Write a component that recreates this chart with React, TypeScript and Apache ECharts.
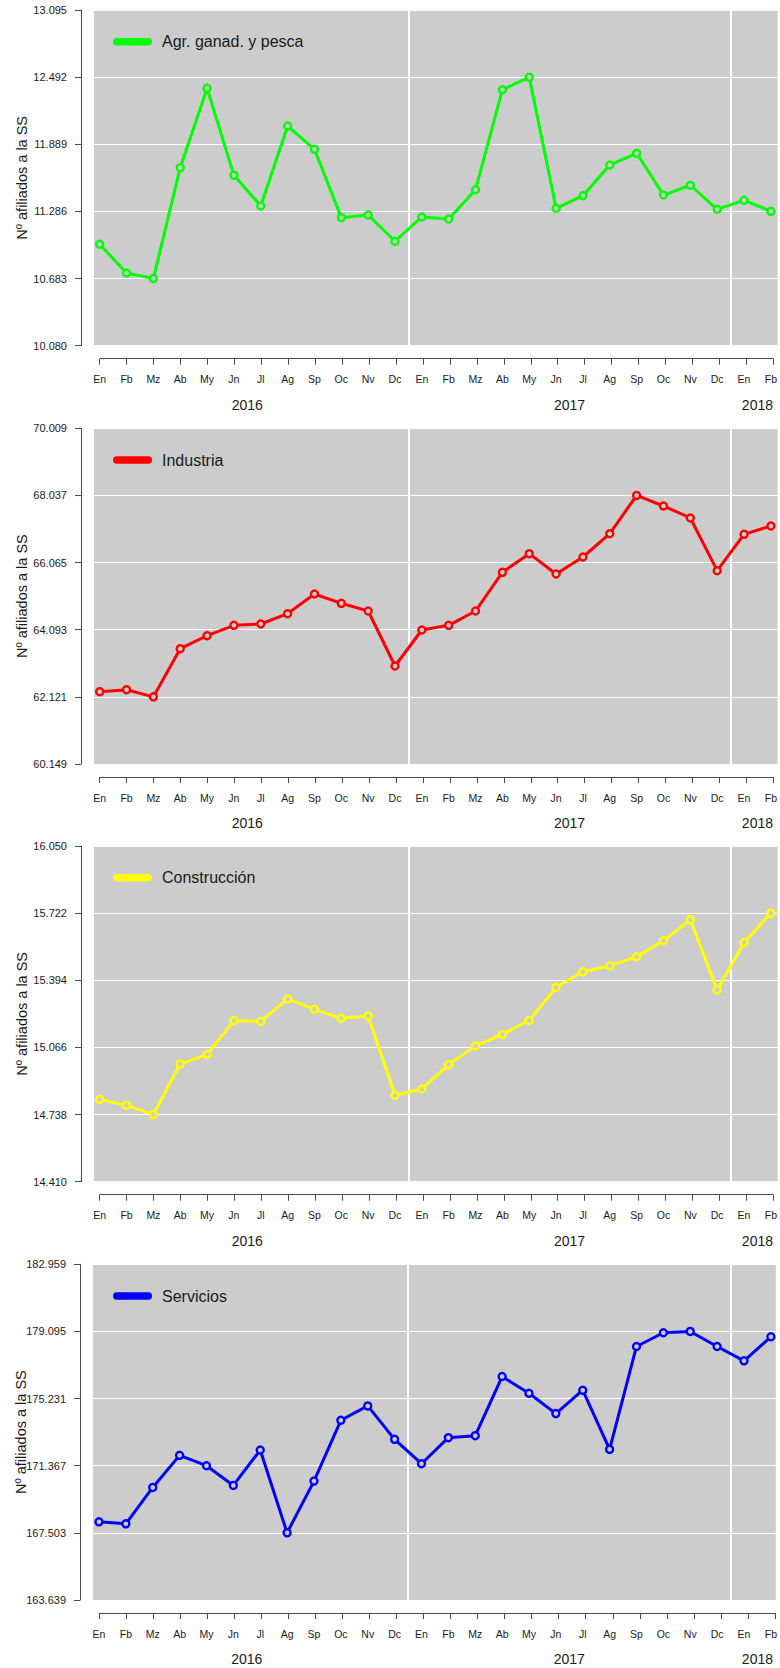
import React, { useEffect, useRef } from 'react';
import * as echarts from 'echarts';

// ---------- data ----------
const monthLabels = [
  'En', 'Fb', 'Mz', 'Ab', 'My', 'Jn', 'Jl', 'Ag', 'Sp', 'Oc', 'Nv', 'Dc',
  'En', 'Fb', 'Mz', 'Ab', 'My', 'Jn', 'Jl', 'Ag', 'Sp', 'Oc', 'Nv', 'Dc',
  'En', 'Fb',
];
const pointYears = [
  '2016', '2016', '2016', '2016', '2016', '2016', '2016', '2016', '2016', '2016', '2016', '2016',
  '2017', '2017', '2017', '2017', '2017', '2017', '2017', '2017', '2017', '2017', '2017', '2017',
  '2018', '2018',
];

const agrValues = [
  10.991, 10.733, 10.683, 11.679, 12.392, 11.61, 11.335, 12.053, 11.844, 11.23, 11.254, 11.018,
  11.236, 11.218, 11.481, 12.379, 12.492, 11.314, 11.427, 11.703, 11.808, 11.433, 11.521, 11.305,
  11.386, 11.287,
];
const indValues = [
  62.274, 62.332, 62.121, 63.537, 63.919, 64.222, 64.261, 64.565, 65.142, 64.868, 64.643, 63.028,
  64.085, 64.222, 64.643, 65.779, 66.327, 65.73, 66.229, 66.915, 68.037, 67.727, 67.375, 65.828,
  66.895, 67.14,
];
const conValues = [
  14.812, 14.783, 14.738, 14.985, 15.032, 15.197, 15.193, 15.303, 15.252, 15.208, 15.219, 14.832,
  14.863, 14.982, 15.074, 15.13, 15.198, 15.359, 15.436, 15.464, 15.509, 15.587, 15.69, 15.346,
  15.578, 15.722,
];
const serValues = [
  168.137, 168.022, 170.117, 171.963, 171.367, 170.233, 172.271, 167.503, 170.483, 173.982, 174.808, 172.886,
  171.482, 172.982, 173.097, 176.5, 175.539, 174.366, 175.712, 172.309, 178.23, 179.02, 179.095, 178.23,
  177.403, 178.787,
];

const agrTicks = [10.08, 10.683, 11.286, 11.889, 12.492, 13.095];
const indTicks = [60.149, 62.121, 64.093, 66.065, 68.037, 70.009];
const conTicks = [14.41, 14.738, 15.066, 15.394, 15.722, 16.05];
const serTicks = [163.639, 167.503, 171.367, 175.231, 179.095, 182.959];

const seriesNames = ['Agr. ganad. y pesca', 'Industria', 'Construcción', 'Servicios'];
const seriesColors = ['#00FF00', '#FF0000', '#FFFF00', '#0000FF'];
const yAxisTitle = 'Nº afiliados a la SS';

const allValues = [agrValues, indValues, conValues, serValues];
const allTicks = [agrTicks, indTicks, conTicks, serTicks];

// ---------- layout ----------
const W = 780;
const H = 1668;
const PLOT_H = 335.7;
const AXIS_OFFSET = 13;
const TICK_LEN = 6;
const panels = [
  { top: 10, left: 94, axisLeft: 99.7, axisRight: 773.3 },
  { top: 428.3, left: 94, axisLeft: 99.7, axisRight: 773.3 },
  { top: 846, left: 94, axisLeft: 99.7, axisRight: 773.3 },
  { top: 1264.3, left: 93, axisLeft: 99, axisRight: 775 },
];
const FONT = "'Liberation Sans', Arial, Helvetica, sans-serif";
const TEXT = '#1a1a1a';
const AXIS = '#4a4a4a';
const PILL = 'path://M3.75,0 L35.25,0 A3.75,3.75 0 0 1 35.25,7.5 L3.75,7.5 A3.75,3.75 0 0 1 3.75,0 Z';

function buildOption() {
  const n = monthLabels.length;
  const monthIdx = monthLabels.map((_, k) => k);
  const boundaries: number[] = [];
  for (let i = 1; i < n; i++) if (pointYears[i] !== pointYears[i - 1]) boundaries.push(i - 0.5);
  const yearNames: string[] = [];
  const yearCenters: number[] = [];
  pointYears.forEach((y) => {
    if (!yearNames.includes(y)) yearNames.push(y);
  });
  yearNames.forEach((y) => {
    const idx = pointYears.map((p, i) => (p === y ? i : -1)).filter((i) => i >= 0);
    yearCenters.push(idx.reduce((a, b) => a + b, 0) / idx.length);
  });

  const grid: any[] = [];
  const xAxis: any[] = [];
  const yAxis: any[] = [];
  const series: any[] = [];
  const legend: any[] = [];

  panels.forEach((p, i) => {
    const sp = (p.axisRight - p.axisLeft) / (n - 1);
    const xMin = -(p.axisLeft - p.left) / sp;
    const xMax = (n - 1) + (W - p.axisRight) / sp;
    const ticks = allTicks[i];

    // main gray panel
    grid.push({
      left: p.left, top: p.top, width: W - p.left, height: PLOT_H,
      show: true, backgroundColor: '#CCCCCC', borderWidth: 0,
    });
    // tick strip below the panel: its top edge is the axis line, its split lines are the ticks
    grid.push({
      left: p.axisLeft, top: p.top + PLOT_H + AXIS_OFFSET, width: p.axisRight - p.axisLeft, height: TICK_LEN,
      show: false,
    });

    // panel x axis: year boundary lines + year labels
    xAxis.push({
      gridIndex: 2 * i, type: 'value', position: 'bottom', offset: AXIS_OFFSET,
      min: xMin, max: xMax,
      axisLine: { show: false, onZero: false },
      axisTick: { show: false, customValues: boundaries },
      axisLabel: {
        show: true, customValues: yearCenters,
        margin: 39, fontSize: 14, lineHeight: 14, color: TEXT, fontFamily: FONT,
        formatter: (v: number) => {
          const k = yearCenters.findIndex((c) => Math.abs(c - v) < 1e-6);
          return k >= 0 ? yearNames[k] : '';
        },
      },
      splitLine: { show: true, lineStyle: { color: '#FFFFFF', width: 2 } },
    });
    // panel x axis: month labels
    xAxis.push({
      gridIndex: 2 * i, type: 'value', position: 'bottom', offset: AXIS_OFFSET,
      min: xMin, max: xMax,
      axisLine: { show: false, onZero: false },
      axisTick: { show: false, customValues: monthIdx },
      axisLabel: {
        show: true, customValues: monthIdx,
        margin: 14.5, fontSize: 10.5, lineHeight: 12, color: TEXT, fontFamily: FONT,
        formatter: (v: number) => monthLabels[Math.round(v)] ?? '',
      },
      splitLine: { show: false },
    });
    // strip x axis: month ticks drawn as split lines
    xAxis.push({
      gridIndex: 2 * i + 1, type: 'value', position: 'bottom',
      min: 0, max: n - 1,
      axisLine: { show: false, onZero: false },
      axisTick: { show: false, customValues: monthIdx },
      axisLabel: { show: false },
      splitLine: { show: true, lineStyle: { color: AXIS, width: 1 } },
    });

    yAxis.push({
      gridIndex: 2 * i, type: 'value', position: 'left', offset: AXIS_OFFSET,
      min: ticks[0], max: ticks[ticks.length - 1],
      axisLine: { show: true, onZero: false, lineStyle: { color: AXIS, width: 1 } },
      axisTick: { show: true, length: TICK_LEN, customValues: ticks, lineStyle: { color: AXIS, width: 1 } },
      axisLabel: {
        customValues: ticks, margin: 14, fontSize: 11, color: TEXT, fontFamily: FONT,
        formatter: (v: number) => v.toFixed(3),
      },
      splitLine: { show: true, lineStyle: { color: '#FFFFFF', width: 1.2 } },
      name: yAxisTitle, nameLocation: 'middle', nameGap: 52, nameMoveOverlap: false,
      nameTextStyle: { fontSize: 14.5, color: TEXT, fontFamily: FONT },
    });
    // strip y axis: its split line at the top is the x axis line
    yAxis.push({
      gridIndex: 2 * i + 1, type: 'value', position: 'left',
      min: 0, max: 1,
      axisLine: { show: false, onZero: false },
      axisTick: { show: false, customValues: [1] },
      axisLabel: { show: false },
      splitLine: { show: true, lineStyle: { color: AXIS, width: 1 } },
    });

    series.push({
      type: 'line', name: seriesNames[i],
      xAxisIndex: 3 * i, yAxisIndex: 2 * i,
      data: allValues[i].map((v, k) => [k, v]),
      symbol: 'circle', symbolSize: 7, showSymbol: true,
      itemStyle: { color: '#CCCCCC', borderColor: seriesColors[i], borderWidth: 2.4 },
      lineStyle: { color: seriesColors[i], width: 3 },
      emphasis: { disabled: true },
      z: 3,
    });
    // empty series so that the strip grid is laid out with its axes
    series.push({
      type: 'line', name: '__strip' + i,
      xAxisIndex: 3 * i + 2, yAxisIndex: 2 * i + 1,
      data: [], symbol: 'none', silent: true,
    });

    legend.push({
      data: [{ name: seriesNames[i], icon: PILL, itemStyle: { color: seriesColors[i], borderWidth: 0 } }],
      left: 113, top: p.top + 23.7, padding: 0,
      itemWidth: 39, itemHeight: 7.5, selectedMode: false,
      textStyle: { fontSize: 16, lineHeight: 16, color: TEXT, fontFamily: FONT, padding: [0, 0, 0, 5] },
    });
  });

  return {
    animation: false,
    backgroundColor: '#FFFFFF',
    textStyle: { fontFamily: FONT },
    grid, xAxis, yAxis, series, legend,
  };
}

export default function App() {
  const ref = useRef<HTMLDivElement>(null);
  useEffect(() => {
    if (!ref.current) return;
    const chart = echarts.init(ref.current, undefined, { renderer: 'svg', width: W, height: H });
    chart.setOption(buildOption() as any);
    return () => chart.dispose();
  }, []);
  return (
    <div
      ref={ref}
      style={{ position: 'absolute', left: 0, top: 0, width: W, height: H, background: '#fff' }}
    />
  );
}
